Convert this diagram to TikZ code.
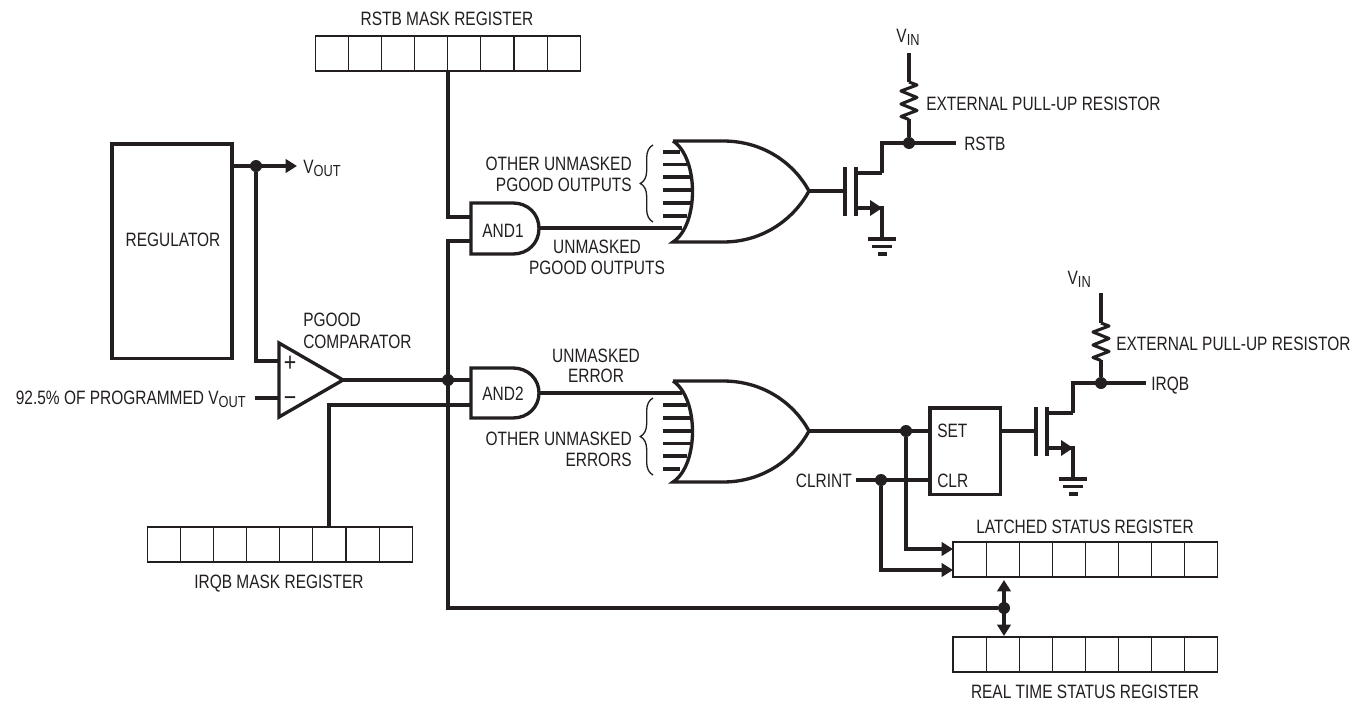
\documentclass[tikz,border=0pt]{standalone}
\usepackage{fontspec}
\setmainfont[FakeStretch=0.8]{Liberation Sans}
\usetikzlibrary{arrows.meta,decorations.pathreplacing,calc}
\definecolor{ink}{HTML}{231F20}
\newcommand{\lowsub}[1]{\raisebox{-0.3ex}{\fontsize{12pt}{12pt}\selectfont #1}}
\tikzset{
  wire/.style={draw=ink,line width=2.3pt,line join=miter},
  arrowed/.style={wire,-{Triangle[length=8.5pt,width=10pt]}},
  both arrowed/.style={wire,{Triangle[length=8.5pt,width=10pt]}-{Triangle[length=8.5pt,width=10pt]}},
  dot/.style={circle,fill=ink,inner sep=0pt,minimum size=9pt},
  reg/.style={draw=ink,line width=0.8pt,rectangle,anchor=north west,inner sep=0pt,outer sep=0pt,minimum width=198.5pt,minimum height=26.25pt},
  cell/.style={draw=ink,line width=0.8pt},
  lbl/.style={text=ink,inner sep=0pt,font=\fontsize{14.5pt}{16pt}\selectfont,anchor=base},
  lbw/.style={lbl,anchor=base west},
  lbe/.style={lbl,anchor=base east},
  sign/.style={lbl,font=\fontsize{20pt}{20pt}\selectfont},
  gate/.style={draw=ink,line width=2.5pt,line join=miter,fill=white},
  box/.style={draw=ink,line width=2.5pt,inner sep=0pt,outer sep=0pt,anchor=north west},
  brc/.style={draw=ink,line width=1pt,decorate,decoration={brace,amplitude=9.5pt}}
}
\newcommand{\cells}[1]{\foreach \k in {1,...,7}{\draw[cell] ($(#1.north west)!\k/8!(#1.north east)$) -- ($(#1.south west)!\k/8!(#1.south east)$);}}
\newcommand{\orgate}[2]{%
\begin{scope}[shift={#2}]
\draw[gate,fill=none] (673,141) -- (723,141) .. controls (765,141) and (795,165) .. (809,191) .. controls (795,217) and (765,242) .. (723,242) -- (673,242) .. controls (699,225) and (699,158) .. (673,141);
\coordinate (#1out) at (809,191);
\end{scope}}
\newcommand{\fet}[2]{%
\begin{scope}[shift={#2}]
\coordinate (#1g) at (845,191);
\coordinate (#1d) at (856,173);
\coordinate (#1dt) at (882,173);
\coordinate (#1s) at (856,208);
\coordinate (#1st) at (882,208);
\coordinate (#1gnd) at (882,239);
\draw[wire,line width=2.7pt] (845,167) -- (845,216);
\draw[wire,line width=2.7pt] (856,167) -- (856,216);
\draw[wire] (#1d) -- (#1dt);
\draw[wire] (#1s) -- (#1st) -- (#1gnd);
\fill[ink] (882,208) -- (870,200) -- (870,216) -- cycle;
\draw[wire] (868,239) -- (896,239);
\draw[wire] (872,246.5) -- (892,246.5);
\draw[wire] (878,254) -- (887,254);
\end{scope}}
\newcommand{\zig}[1]{%
\draw[wire,line join=round] (#1) -- ++(8,3) -- ++(-16,6) -- ++(16,6.5) -- ++(-16,6.5) -- ++(16,6.5) -- ++(-16,6) -- ++(8,3);}
\begin{document}
\begin{tikzpicture}[x=0.75pt,y=-0.75pt]
\useasboundingbox (0,0) rectangle (1366,700);
\fill[white] (0,0) rectangle (1366,700);
% registers
\node[reg] (rstbreg) at (315.5,36) {}; \cells{rstbreg}
\node[reg] (irqbreg) at (147.5,527) {}; \cells{irqbreg}
\node[reg] (latreg) at (953,542) {}; \cells{latreg}
\node[reg] (realreg) at (953,637) {}; \cells{realreg}
% regulator
\node[box,minimum width=90pt,minimum height=161pt] (regu) at (112,144) {};
\node[lbl] (regt) at (173,246) {REGULATOR};
% comparator
\draw[gate] (279,343) -- (343,380) -- (279,417) -- cycle;
\coordinate (cmpout) at (343,380);
\coordinate (cmpp) at (279,361);
\coordinate (cmpm) at (279,398);
\node[sign] (plus) at (290,371) {+};
\node[sign] (minus) at (290,406) {\char"2212};
% AND gates
\draw[gate] (471,203) -- (513,203) .. controls (528,203) and (539,214) .. (539,228.5) .. controls (539,243) and (528,254) .. (513,254) -- (471,254) -- cycle;
\draw[gate] (471,368) -- (513,368) .. controls (528,368) and (539,379) .. (539,393) .. controls (539,407) and (528,418) .. (513,418) -- (471,418) -- cycle;
\node[lbl] (and1) at (503,237) {AND1};
\node[lbl] (and2) at (503,400) {AND2};
\coordinate (a1i1) at (471,217); \coordinate (a1i2) at (471,241); \coordinate (a1o) at (539,228);
\coordinate (a2i1) at (471,380); \coordinate (a2i2) at (471,405); \coordinate (a2o) at (539,393);
% OR gates
\orgate{orA}{(0,0)}
\orgate{orB}{(0,240)}
\draw[wire] (663,152) -- (680,152);
\draw[wire] (663,164.5) -- (687,164.5);
\draw[wire] (663,177) -- (691,177);
\draw[wire] (663,190) -- (693,190);
\draw[wire] (663,203) -- (691,203);
\draw[wire] (663,216) -- (687,216);
\draw[wire] (663,405) -- (687,405);
\draw[wire] (663,418) -- (691,418);
\draw[wire] (663,431) -- (693,431);
\draw[wire] (663,443.5) -- (691,443.5);
\draw[wire] (663,456) -- (687,456);
\draw[wire] (663,469) -- (680,469);
\coordinate (orAi) at (682,228); \coordinate (orBi) at (682,393);
% FETs
\fet{fA}{(0,0)}
\fet{fB}{(191,240)}
% flip-flop
\node[box,minimum width=53pt,minimum height=65pt] (ff) at (930,408) {};
\coordinate (ffset) at (930,431); \coordinate (ffclr) at (930,480); \coordinate (ffq) at (1001,431);
% dots
\node[dot] (dv) at (256,166) {};
\node[dot] (dc) at (448,380) {};
\node[dot] (dr) at (909,143) {};
\node[dot] (di) at (1101,383) {};
\node[dot] (ds) at (906,431) {};
\node[dot] (dk) at (881,480) {};
\node[dot] (db) at (1004,608) {};
% free ends
\coordinate (vout) at (297,166);
\coordinate (vinm) at (255,398);
\coordinate (rstbend) at (956,143);
\coordinate (irqbend) at (1146,383);
\coordinate (clrend) at (856,480);
\coordinate (vina) at (909,53);
\coordinate (vinb) at (1101,293);
\coordinate (ra) at (909,82);
\coordinate (rab) at (909,119);
\coordinate (rb) at (1101,323);
\coordinate (rbb) at (1101,360);
% connectors
\draw[wire] (rstbreg.south -| dc) -- (dc |- a1i1) -- (a1i1);
\draw[wire] (a1i2) -- (dc |- a1i2) -- (db -| dc) -- (db);
\draw[wire] (cmpout) -- (a2i1);
\draw[wire] (irqbreg.north -| 329,0) -- (329,405) -- (a2i2);
\draw[wire] (a1o) -- (orAi);
\draw[wire] (a2o) -- (orBi);
\draw[arrowed] (regu.east |- dv) -- (vout);
\draw[wire] (dv) -- (256,361) -- (cmpp);
\draw[wire] (vinm) -- (cmpm);
\draw[wire] (orAout) -- (fAg);
\draw[wire] (fAdt) -- (882,143) -- (rstbend);
\draw[wire] (vina) -- (ra);
\zig{ra}
\draw[wire] (rab) -- (dr);
\draw[wire] (orBout) -- (ffset);
\draw[wire] (ffq) -- (fBg);
\draw[wire] (fBdt) -- (fBdt |- di) -- (irqbend);
\draw[wire] (vinb) -- (rb);
\zig{rb}
\draw[wire] (rbb) -- (di);
\draw[wire] (clrend) -- (ffclr);
\draw[arrowed] (ds) -- (906,549) -- (953,549);
\draw[arrowed] (dk) -- (881,570) -- (953,570);
\draw[both arrowed] (1004,580) -- (1004,636);
% braces
\draw[brc] (653,222) -- (653,145);
\draw[brc] (653,475) -- (653,398);
% labels
\node[lbl] (t1) at (447,25) {RSTB MASK REGISTER};
\node[lbl] (t2) at (279,588) {IRQB MASK REGISTER};
\node[lbl] (t3) at (1085,533) {LATCHED STATUS REGISTER};
\node[lbl] (t4) at (1085,698) {REAL TIME STATUS REGISTER};
\node[lbw] (t5) at (303,173) {V\lowsub{OUT}};
\node[lbe] (t6) at (246,404) {92.5\% OF PROGRAMMED V\lowsub{OUT}};
\node[lbw] (t7) at (303,326) {PGOOD};
\node[lbw] (t8) at (303,348) {COMPARATOR};
\node[lbe] (t9) at (632,170) {OTHER UNMASKED};
\node[lbe] (t10) at (632,191) {PGOOD OUTPUTS};
\node[lbl] (t11) at (597,253) {UNMASKED};
\node[lbl] (t12) at (597,274) {PGOOD OUTPUTS};
\node[lbl] (t13) at (596,362) {UNMASKED};
\node[lbl] (t14) at (596,382) {ERROR};
\node[lbe] (t15) at (632,445) {OTHER UNMASKED};
\node[lbe] (t16) at (632,466) {ERRORS};
\node[lbl] (t17) at (908,42) {V\lowsub{IN}};
\node[lbe] (t18) at (1091,284) {V\lowsub{IN}};
\node[lbw] (t19) at (926,110) {EXTERNAL PULL-UP RESISTOR};
\node[lbw] (t20) at (1116,350) {EXTERNAL PULL-UP RESISTOR};
\node[lbw] (t21) at (964,150) {RSTB};
\node[lbw] (t22) at (1151,390) {IRQB};
\node[lbw] (t23) at (937,437) {SET};
\node[lbw] (t24) at (937,487) {CLR};
\node[lbe] (t25) at (852,487) {CLRINT};
\end{tikzpicture}
\end{document}
